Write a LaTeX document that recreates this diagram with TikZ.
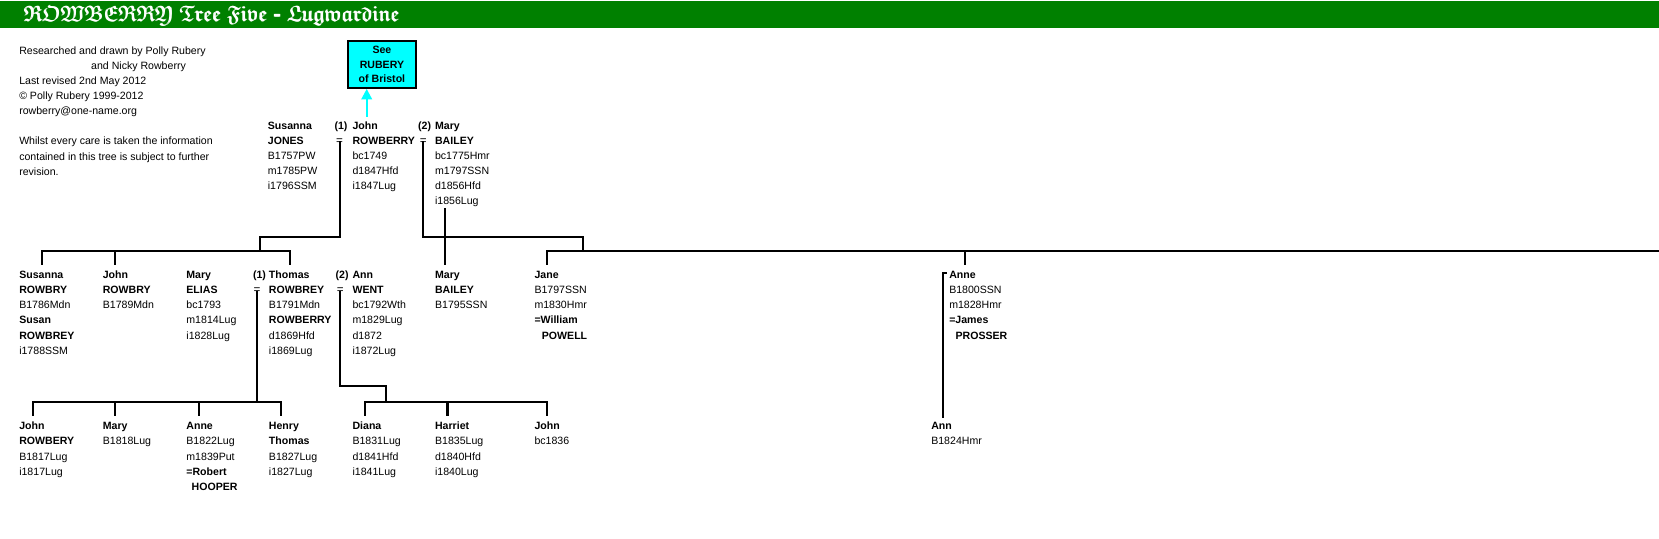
\documentclass[tikz,border=0pt]{standalone}
\usepackage{amssymb}
\usepackage{fontspec}
\setmainfont{Liberation Sans}
\usepackage{tikz}
\usetikzlibrary{arrows.meta}

\definecolor{titlegreen}{RGB}{0,128,0}
\definecolor{seecyan}{RGB}{0,255,255}
\newcommand{\titletext}{$\mathfrak{ROWBERRY\ Tree\ Five}$ - $\mathfrak{Lugwardine}$}

\tikzset{
  person/.style={anchor=north west,align=left,inner sep=0pt,
    font=\fontsize{10}{14.3}\selectfont},
  tag/.style={anchor=north west,inner sep=0pt,
    font=\fontsize{10}{14.3}\selectfont\bfseries},
  eqsign/.style={anchor=base,inner sep=0pt,
    font=\fontsize{11}{14.3}\selectfont},
  link/.style={line width=2pt},
  uplink/.style={line width=2pt,color=seecyan,
    -{Triangle[width=10pt,length=10pt]}},
}

\begin{document}
\begin{tikzpicture}[x=1pt,y=-1pt]
    \useasboundingbox (0,0) rectangle (1568,508.5);
    % 标题栏
    \fill[titlegreen](0,1)rectangle(1568,26);
    \node[anchor=base west,inner sep=0pt,text=white,
      font=\fontsize{21}{21}\selectfont\bfseries] (title) at (22,20.5)
      {\rlap{\titletext}\hspace*{0.8pt}\titletext};
    % 说明文字
    \node[person] (credits) at (18,41) {\strut Researched and drawn by Polly Rubery\\
      \hspace*{68pt}and Nicky Rowberry\\ Last revised 2nd May 2012\\
      © Polly Rubery 1999-2012\\ rowberry@one-name.org\\[14.3pt]
      Whilst every care is taken the information\\
      contained in this tree is subject to further\\ revision.};
    % 参见框
    \node[draw=black,line width=2pt,fill=seecyan,inner sep=0pt,
      minimum width=64pt,minimum height=44pt,align=center,
      font=\fontsize{10}{13.6}\selectfont\bfseries] (seeBox) at (361,61)
      {See\\RUBERY\\of Bristol};
    % 第一代
    \node[person] (sJones) at (253,112) {\strut\textbf{Susanna}\\ \textbf{JONES}\\
      B1757PW\\ m1785PW\\ i1796SSM};
    \node[tag] (t1) at (316,112) {\strut(1)};
    \node[eqsign] (eq1) at (321,136.3) {=};
    \node[person] (jRowberry) at (333,112) {\strut\textbf{John}\\ \textbf{ROWBERRY}\\
      bc1749\\ d1847Hfd\\ i1847Lug};
    \node[tag] (t2) at (395,112) {\strut(2)};
    \node[eqsign] (eq2) at (400,136.3) {=};
    \node[person] (mBailey) at (411,112) {\strut\textbf{Mary}\\ \textbf{BAILEY}\\
      bc1775Hmr\\ m1797SSN\\ d1856Hfd\\ i1856Lug};
    \draw[uplink]([xshift=13.6pt,yshift=1.5pt]jRowberry.north west)
      --([xshift=13.6pt]jRowberry.north west|-seeBox.south);
    % 第二代
    \node[person] (sRowbry) at (18,253) {\strut\textbf{Susanna}\\ \textbf{ROWBRY}\\
      B1786Mdn\\ \textbf{Susan}\\ \textbf{ROWBREY}\\ i1788SSM};
    \node[person] (jRowbry) at (97,253) {\strut\textbf{John}\\ \textbf{ROWBRY}\\
      B1789Mdn};
    \node[person] (mElias) at (176,253) {\strut\textbf{Mary}\\ \textbf{ELIAS}\\
      bc1793\\ m1814Lug\\ i1828Lug};
    \node[tag] (t3) at (239,253) {\strut(1)};
    \node[eqsign] (eq3) at (243,277.3) {=};
    \node[person] (tRowbrey) at (254,253) {\strut\textbf{Thomas}\\ \textbf{ROWBREY}\\
      B1791Mdn\\ \textbf{ROWBERRY}\\ d1869Hfd\\ i1869Lug};
    \node[tag] (t4) at (317,253) {\strut(2)};
    \node[eqsign] (eq4) at (321.5,277.3) {=};
    \node[person] (aWent) at (333,253) {\strut\textbf{Ann}\\ \textbf{WENT}\\
      bc1792Wth\\ m1829Lug\\ d1872\\ i1872Lug};
    \node[person] (mBaileyJr) at (411,253) {\strut\textbf{Mary}\\ \textbf{BAILEY}\\
      B1795SSN};
    \node[person] (jane) at (505,253) {\strut\textbf{Jane}\\ B1797SSN\\ m1830Hmr\\
      \textbf{=William}\\ \hspace*{7pt}\textbf{POWELL}};
    \node[person] (anne) at (897,253) {\strut\textbf{Anne}\\ B1800SSN\\ m1828Hmr\\
      \textbf{=James}\\ \hspace*{6pt}\textbf{PROSSER}};
    % 第三代
    \node[person] (jRowbery) at (18,396) {\strut\textbf{John}\\ \textbf{ROWBERY}\\
      B1817Lug\\ i1817Lug};
    \node[person] (maryL) at (97,396) {\strut\textbf{Mary}\\ B1818Lug};
    \node[person] (anneL) at (176,396) {\strut\textbf{Anne}\\ B1822Lug\\ m1839Put\\
      \textbf{=Robert}\\ \hspace*{5pt}\textbf{HOOPER}};
    \node[person] (henry) at (254,396) {\strut\textbf{Henry}\\ \textbf{Thomas}\\
      B1827Lug\\ i1827Lug};
    \node[person] (diana) at (333,396) {\strut\textbf{Diana}\\ B1831Lug\\ d1841Hfd\\
      i1841Lug};
    \node[person] (harriet) at (411,396) {\strut\textbf{Harriet}\\ B1835Lug\\
      d1840Hfd\\ i1840Lug};
    \node[person] (johnL) at (505,396) {\strut\textbf{John}\\ bc1836};
    \node[person] (ann) at (880,396) {\strut\textbf{Ann}\\ B1824Hmr};
    % 家族连线
    \coordinate (famA) at (246,237);
    \coordinate (famB) at (551,237);
    \coordinate (famBend) at (1568,237);
    \coordinate (famC) at (243,380);
    \coordinate (famD) at (365,380);
    \coordinate (dSus) at ([xshift=22pt,yshift=3pt]sRowbry.north west);
    \coordinate (dJoh) at ([xshift=12pt,yshift=3pt]jRowbry.north west);
    \coordinate (dTho) at ([xshift=20pt,yshift=3pt]tRowbrey.north west);
    \coordinate (dJane) at ([xshift=12pt,yshift=3pt]jane.north west);
    \coordinate (dAnne) at ([xshift=15pt,yshift=3pt]anne.north west);
    \coordinate (dJohn3) at ([xshift=13pt,yshift=3pt]jRowbery.north west);
    \coordinate (dMary3) at ([xshift=12pt,yshift=3pt]maryL.north west);
    \coordinate (dAnne3) at ([xshift=12pt,yshift=3pt]anneL.north west);
    \coordinate (dHenry) at ([xshift=12pt,yshift=3pt]henry.north west);
    \coordinate (dDiana) at ([xshift=12pt,yshift=3pt]diana.north west);
    \coordinate (dHarriet) at ([xshift=12pt,yshift=3pt]harriet.north west);
    \coordinate (dJohn4) at ([xshift=12pt,yshift=3pt]johnL.north west);
    \draw[link](eq1.center)|-([yshift=13pt]famA)--(famA);
    \draw[link](dSus)|-(famA)-|(dTho);
    \draw[link](dJoh)--(dJoh|-famA);
    \draw[link](eq2.center)|-([yshift=13pt]famB)--(famB);
    \draw[link](dJane)|-(famBend);
    \draw[link](dAnne)--(dAnne|-famB);
    \draw[link]([xshift=10pt,yshift=-1pt]mBailey.south west)
      --([xshift=10pt,yshift=3pt]mBaileyJr.north west);
    \draw[link](eq3.center)--(eq3.center|-famC);
    \draw[link](dJohn3)|-(famC)-|(dHenry);
    \draw[link](dMary3)--(dMary3|-famC);
    \draw[link](dAnne3)--(dAnne3|-famC);
    \draw[link](eq4.center)|-([yshift=15pt]famD)--(famD);
    \draw[link](dDiana)|-(famD)-|(dJohn4);
    \draw[link](dHarriet)--(dHarriet|-famD);
    \draw[link]([xshift=-2pt,yshift=-5pt]anne.north west)
      -|([xshift=11pt,yshift=1pt]ann.north west);
\end{tikzpicture}
\end{document}
